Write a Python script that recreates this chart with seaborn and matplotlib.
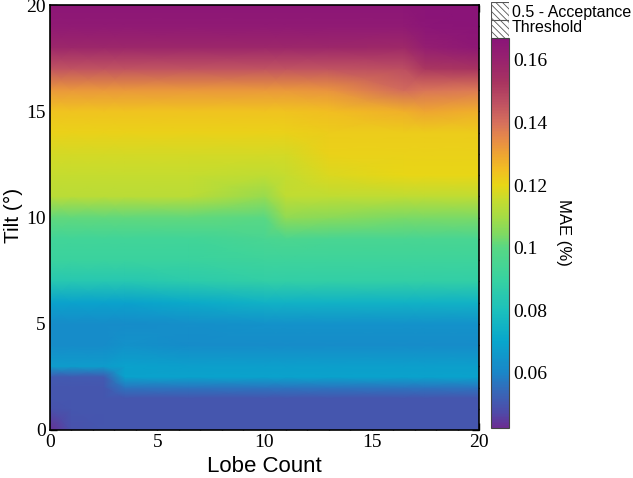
import numpy as np
import matplotlib
matplotlib.use("Agg")
import matplotlib.pyplot as plt
import seaborn as sns
from matplotlib.colors import LinearSegmentedColormap
from matplotlib.patches import Rectangle
from matplotlib.ticker import MultipleLocator, FixedLocator

# ---------------- data ----------------
lobe_count = [0, 1, 2.5, 3.5, 6.5, 10, 11, 13, 16.5, 17.5, 20]
tilt = [0, 1, 1.5, 2, 2.5, 3, 4, 5, 6, 7, 8, 9, 10, 11, 12, 13, 14, 15, 16, 17, 18, 19, 20]

mae_lobe_0 = [0.043, 0.049, 0.050, 0.050, 0.051, 0.067, 0.062, 0.062, 0.069, 0.084, 0.091, 0.093,
              0.101, 0.113, 0.115, 0.117, 0.121, 0.124, 0.132, 0.146, 0.158, 0.164, 0.166]
mae_lobe_1 = [0.049, 0.050, 0.050, 0.050, 0.051, 0.067, 0.062, 0.062, 0.069, 0.084, 0.091, 0.093,
              0.101, 0.113, 0.115, 0.117, 0.121, 0.124, 0.132, 0.146, 0.158, 0.164, 0.166]
mae_lobe_2_5 = [0.050, 0.050, 0.050, 0.050, 0.051, 0.067, 0.062, 0.062, 0.069, 0.084, 0.091, 0.093,
                0.101, 0.113, 0.115, 0.117, 0.121, 0.124, 0.132, 0.146, 0.158, 0.164, 0.166]
mae_lobe_3_5 = [0.050, 0.050, 0.050, 0.057, 0.069, 0.069, 0.064, 0.062, 0.069, 0.084, 0.091, 0.093,
                0.101, 0.113, 0.115, 0.117, 0.121, 0.124, 0.132, 0.146, 0.158, 0.164, 0.166]
mae_lobe_6_5 = [0.050, 0.050, 0.050, 0.057, 0.069, 0.068, 0.062, 0.063, 0.072, 0.086, 0.091, 0.093,
                0.101, 0.113, 0.115, 0.117, 0.121, 0.124, 0.132, 0.146, 0.158, 0.164, 0.166]
mae_lobe_10 = [0.050, 0.050, 0.050, 0.057, 0.069, 0.068, 0.062, 0.064, 0.075, 0.088, 0.092, 0.095,
               0.100, 0.108, 0.114, 0.117, 0.121, 0.124, 0.132, 0.146, 0.158, 0.164, 0.166]
mae_lobe_11 = [0.050, 0.050, 0.050, 0.057, 0.069, 0.068, 0.062, 0.064, 0.075, 0.088, 0.092, 0.096,
               0.107, 0.114, 0.115, 0.117, 0.121, 0.124, 0.132, 0.146, 0.158, 0.164, 0.166]
mae_lobe_13 = [0.050, 0.050, 0.050, 0.057, 0.069, 0.068, 0.062, 0.064, 0.075, 0.088, 0.092, 0.095,
               0.106, 0.114, 0.118, 0.121, 0.122, 0.125, 0.133, 0.146, 0.158, 0.164, 0.166]
mae_lobe_16_5 = [0.050, 0.050, 0.050, 0.057, 0.069, 0.068, 0.062, 0.064, 0.075, 0.088, 0.092, 0.095,
                 0.104, 0.114, 0.120, 0.121, 0.122, 0.128, 0.141, 0.147, 0.157, 0.164, 0.166]
mae_lobe_17_5 = [0.050, 0.050, 0.050, 0.057, 0.069, 0.068, 0.062, 0.064, 0.075, 0.088, 0.092, 0.095,
                 0.104, 0.114, 0.120, 0.121, 0.122, 0.130, 0.139, 0.152, 0.162, 0.166, 0.167]
mae_lobe_20 = [0.050, 0.050, 0.050, 0.057, 0.069, 0.068, 0.062, 0.064, 0.075, 0.088, 0.092, 0.095,
               0.104, 0.114, 0.120, 0.121, 0.122, 0.128, 0.138, 0.153, 0.165, 0.167, 0.167]

cbar_ticks = [0.06, 0.08, 0.10, 0.12, 0.14, 0.16]
cbar_ticklabels = ["0.06", "0.08", "0.1", "0.12", "0.14", "0.16"]
axis_ticks = [0, 5, 10, 15, 20]
threshold_label = "0.5 - Acceptance\nThreshold"

vmin, vmax = 0.0424, 0.167

# colormap anchors (value, colour)
cmap_values = [0.0424, 0.047, 0.053, 0.060, 0.070, 0.080, 0.090, 0.100, 0.105, 0.110,
               0.115, 0.120, 0.125, 0.130, 0.135, 0.140, 0.147, 0.153, 0.160, 0.167]
cmap_colors = ["#6b2d93", "#4f4aa8", "#3a64b6", "#1a86c8", "#08a6cc", "#1cc0bc", "#38d2a0",
               "#58d884", "#84da5e", "#a6dc44", "#c4dc30", "#e8d616", "#f2be22", "#eea432",
               "#e68a48", "#d6705c", "#bc4e62", "#a83460", "#98226e", "#8a1478"]

# ---------------- style ----------------
sns.set_theme(style="ticks")
plt.rcParams["font.family"] = ["Liberation Serif", "DejaVu Serif"]
plt.rcParams["text.color"] = "black"
plt.rcParams["axes.labelcolor"] = "black"
plt.rcParams["xtick.color"] = "black"
plt.rcParams["ytick.color"] = "black"
plt.rcParams["xtick.direction"] = "in"
plt.rcParams["ytick.direction"] = "in"
plt.rcParams["hatch.linewidth"] = 0.6

sans = ["Liberation Sans", "DejaVu Sans"]

cmap = LinearSegmentedColormap.from_list(
    "mae", [((v - vmin) / (vmax - vmin), c) for v, c in zip(cmap_values, cmap_colors)])

Z = np.column_stack([mae_lobe_0, mae_lobe_1, mae_lobe_2_5, mae_lobe_3_5, mae_lobe_6_5,
                     mae_lobe_10, mae_lobe_11, mae_lobe_13, mae_lobe_16_5, mae_lobe_17_5,
                     mae_lobe_20])

fig = plt.figure(figsize=(6.33, 4.78), dpi=100)
ax = fig.add_axes([50 / 633, 1 - 430 / 478, 429 / 633, 425 / 478])

mesh = ax.pcolormesh(lobe_count, tilt, Z, shading="gouraud", cmap=cmap, vmin=vmin, vmax=vmax,
                     rasterized=True)
ax.set_xlim(0, 20)
ax.set_ylim(0, 20)
ax.set_xticks(axis_ticks)
ax.set_yticks(axis_ticks)
ax.xaxis.set_minor_locator(MultipleLocator(1))
ax.yaxis.set_minor_locator(MultipleLocator(1))
ax.tick_params(which="both", direction="in", top=True, right=True, color="black", width=1.0,
               labelcolor="black")
ax.tick_params(which="major", length=5, labelsize=14, pad=3)
ax.tick_params(which="minor", length=3)
for s in ax.spines.values():
    s.set_color("black")
    s.set_linewidth(1.2)

fig.text(264 / 633, 1 - 466 / 478, "Lobe Count", family=sans, fontsize=16, ha="center",
         va="center", color="black")
fig.text(13 / 633, 1 - 215 / 478, "Tilt (°)", family=sans, fontsize=15, ha="center",
         va="center", rotation=90, color="black")

# colorbar
cax = fig.add_axes([491 / 633, 1 - 428 / 478, 18 / 633, 390 / 478])
cb = fig.colorbar(mesh, cax=cax)
cb.set_ticks(cbar_ticks)
cb.set_ticklabels(cbar_ticklabels)
cax.yaxis.set_minor_locator(FixedLocator(np.arange(0.045, 0.1675, 0.005)))
cax.tick_params(which="both", direction="in", right=True, left=False, color="black", width=0.9,
                labelcolor="black")
cax.tick_params(which="major", length=5, labelsize=14, pad=3)
cax.tick_params(which="minor", length=3)
cb.outline.set_edgecolor("#444444")
cb.outline.set_linewidth(0.8)
fig.text(563 / 633, 1 - 232 / 478, "MAE (%)", family=sans, fontsize=12, rotation=270,
         ha="center", va="center", color="black")

# hatched acceptance-threshold box
hax = fig.add_axes([491 / 633, 1 - 38 / 478, 18 / 633, 36 / 478])
hax.set_xlim(0, 1)
hax.set_ylim(0, 1)
hax.axis("off")
hax.add_patch(Rectangle((0, 0), 1, 1, facecolor="white", edgecolor="#555555",
                        hatch="\\\\\\\\\\", linewidth=0.8))
hax.axhline(0.5, color="#555555", linewidth=0.8)
fig.text(512 / 633, 1 - 20 / 478, threshold_label, family=sans, fontsize=11.5, va="center",
         ha="left", linespacing=0.95, color="black")

fig.savefig("out.png", dpi=100)
